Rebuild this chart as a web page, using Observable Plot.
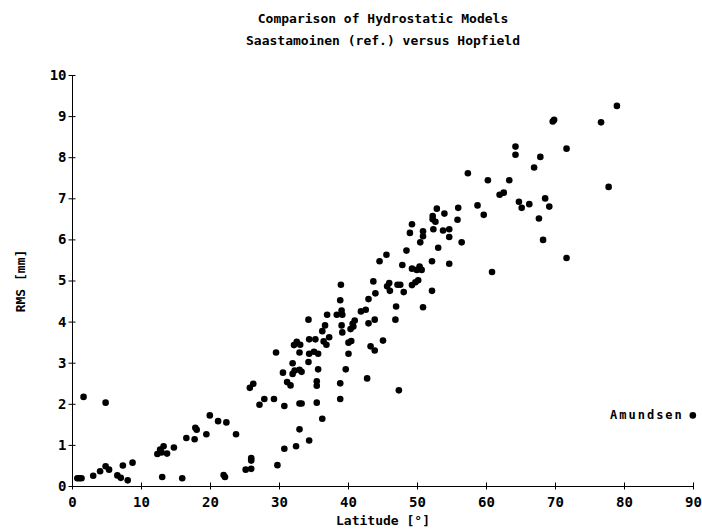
<!DOCTYPE html>
<html><head><meta charset="utf-8">
<script src="https://cdn.jsdelivr.net/npm/d3@7"></script>
<script src="https://cdn.jsdelivr.net/npm/@observablehq/plot@0.6"></script>
<style>body{margin:0;background:#fff}#chart{width:702px;height:530px}</style>
</head><body><div id="chart"></div>
<script>
const title = "Comparison of Hydrostatic Models";
const subtitle = "Saastamoinen (ref.) versus Hopfield";
const xLabel = "Latitude [°]";
const yLabel = "RMS [mm]";
const xTicks = [0, 10, 20, 30, 40, 50, 60, 70, 80, 90];
const yTicks = [0, 1, 2, 3, 4, 5, 6, 7, 8, 9, 10];

const latitude = [
  1.6, 4.8, 0.7, 1.0, 1.3, 3.0, 4.0, 4.8, 5.3, 6.5, 7.0, 7.3, 8.0, 8.7,
  12.3, 12.7, 12.9, 13.2, 13.7, 13.0, 14.7, 15.9, 16.5, 17.7, 17.8, 18.0, 19.4, 19.9,
  21.1, 22.3, 23.7, 21.9, 22.1, 25.1, 25.9, 25.9, 25.9, 25.7, 26.2, 27.1, 27.8, 29.2,
  29.7, 30.7, 30.7, 32.4, 32.9, 32.9, 33.2, 31.1, 31.6,
  34.3, 36.2, 29.5, 30.5, 31.9, 31.9, 32.2, 32.9, 33.2, 32.1, 32.5, 33.0, 32.9, 34.2,
  34.2, 34.3, 35.2, 34.3, 35.0, 35.6, 35.6, 35.4, 35.4, 35.4, 36.2, 36.6, 37.2, 36.4,
  36.8, 36.9, 38.3, 39.0, 39.1, 38.8, 38.9, 39.0, 39.1, 38.8, 38.8, 39.6, 40.0, 40.0,
  40.4, 40.3, 40.7, 40.9, 40.6, 41.8, 42.5, 42.9, 42.9, 43.8, 43.2, 43.8, 42.7, 43.6,
  43.9, 44.5, 45.5, 45.0, 45.6, 45.9, 46.0, 46.9, 46.8, 47.3, 47.1, 47.5, 48.0, 47.8,
  48.4, 48.9, 49.2, 49.7, 50.1, 49.2, 49.9, 50.3, 50.6, 50.8, 50.4, 50.8, 50.8, 52.1,
  52.1, 53.0, 54.6, 54.6,
  64.2, 64.2, 67.8, 71.6, 66.9, 57.3, 60.2, 63.3, 61.9, 62.5, 58.7, 59.6, 64.7, 65.1,
  66.2, 68.5, 69.1, 67.6, 68.2, 71.6, 60.8, 52.8, 53.9, 55.9, 55.8, 52.2, 52.2, 52.6,
  49.2, 52.3, 53.7, 54.6, 56.4,
  78.9, 69.6, 69.8, 76.6, 77.7, 89.9
];
const rms = [
  2.18, 2.04, 0.20, 0.20, 0.20, 0.26, 0.37, 0.49, 0.41, 0.27, 0.21, 0.51, 0.15, 0.58,
  0.79, 0.90, 0.83, 0.98, 0.80, 0.23, 0.95, 0.20, 1.18, 1.15, 1.43, 1.38, 1.27, 1.73,
  1.59, 1.56, 1.27, 0.28, 0.23, 0.41, 0.43, 0.63, 0.69, 2.40, 2.50, 1.99, 2.13, 2.13,
  0.52, 1.96, 0.92, 0.98, 1.39, 2.02, 2.02, 2.54, 2.46,
  1.12, 1.65, 3.26, 2.77, 3.00, 2.74, 2.82, 2.84, 2.79, 3.44, 3.52, 3.45, 3.26, 4.06,
  3.03, 3.58, 3.58, 3.23, 3.28, 3.23, 2.85, 2.56, 2.45, 2.04, 3.78, 3.92, 3.63, 3.53,
  3.45, 4.18, 4.18, 4.28, 4.18, 4.53, 4.91, 3.92, 3.75, 2.51, 2.13, 2.85, 3.23, 3.50,
  3.54, 3.83, 3.89, 4.04, 3.96, 4.26, 4.30, 4.56, 3.97, 4.06, 3.41, 3.31, 2.63, 4.99,
  4.70, 5.48, 5.64, 3.55, 4.87, 4.95, 4.76, 4.38, 4.06, 2.34, 4.91, 4.91, 4.73, 5.39,
  5.74, 6.17, 4.90, 4.97, 5.02, 5.30, 5.27, 5.35, 5.27, 4.36, 5.94, 6.21, 6.09, 5.48,
  4.76, 5.81, 5.42, 6.07,
  8.27, 8.07, 8.02, 8.22, 7.76, 7.62, 7.45, 7.45, 7.10, 7.15, 6.84, 6.61, 6.93, 6.78,
  6.87, 7.01, 6.81, 6.52, 6.00, 5.56, 5.22, 6.76, 6.64, 6.78, 6.49, 6.58, 6.50, 6.44,
  6.38, 6.26, 6.23, 6.26, 5.94,
  9.26, 8.88, 8.92, 8.86, 7.29, 1.73
];
const labelName = ["Amundsen"];
const labelLatitude = [89.9];
const labelRms = [1.73];

const stations = latitude.map((lat, i) => ({lat, rms: rms[i]}));
const labels = labelName.map((name, i) => ({name, lat: labelLatitude[i], rms: labelRms[i]}));

const FONT = "DejaVu Sans Mono";

const chart = Plot.plot({
  width: 702,
  height: 530,
  marginLeft: 72,
  marginRight: 9,
  marginTop: 75,
  marginBottom: 44,
  style: {fontFamily: FONT, background: "#fff", color: "#000", overflow: "visible"},
  x: {domain: [0, 90]},
  y: {domain: [0, 10]},
  marks: [
    Plot.ruleX([0], {y1: 0, y2: 10, stroke: "#000", strokeWidth: 1}),
    Plot.ruleY([0], {x1: 0, x2: 90, stroke: "#000", strokeWidth: 1}),
    Plot.axisX({ticks: xTicks, tickSize: 7, dy: -3.5, text: null, label: null, stroke: "#000", strokeOpacity: 1}),
    Plot.axisX({ticks: xTicks, tickSize: 0, tickPadding: 11, label: null, fontSize: 14, fontWeight: "bold", fill: "#000"}),
    Plot.axisY({ticks: yTicks, tickSize: 7, dx: 3.5, text: null, label: null, stroke: "#000", strokeOpacity: 1}),
    Plot.axisY({ticks: yTicks, tickSize: 0, tickPadding: 6, label: null, fontSize: 14, fontWeight: "bold", fill: "#000"}),
    Plot.dot(stations, {x: "lat", y: "rms", r: 3.3, fill: "#000", stroke: null}),
    Plot.text(labels, {x: "lat", y: "rms", text: "name", textAnchor: "end", dx: -9, fontSize: 12, fontWeight: "bold", fill: "#000"}),
    Plot.text([title], {frameAnchor: "top", textAnchor: "middle", dy: -62, fontSize: 13, fontWeight: "bold", fill: "#000"}),
    Plot.text([subtitle], {frameAnchor: "top", textAnchor: "middle", dy: -40, fontSize: 13, fontWeight: "bold", fill: "#000"}),
    Plot.text([xLabel], {frameAnchor: "bottom", textAnchor: "middle", dy: 38, fontSize: 13, fontWeight: "bold", fill: "#000"}),
    Plot.text([yLabel], {frameAnchor: "left", textAnchor: "middle", dx: -52, rotate: -90, fontSize: 13, fontWeight: "bold", fill: "#000"})
  ]
});
d3.select(chart).selectAll("text")
  .filter(function () { return labelName.includes(this.textContent); })
  .style("letter-spacing", "2px");
document.getElementById("chart").appendChild(chart);
</script>
</body></html>
